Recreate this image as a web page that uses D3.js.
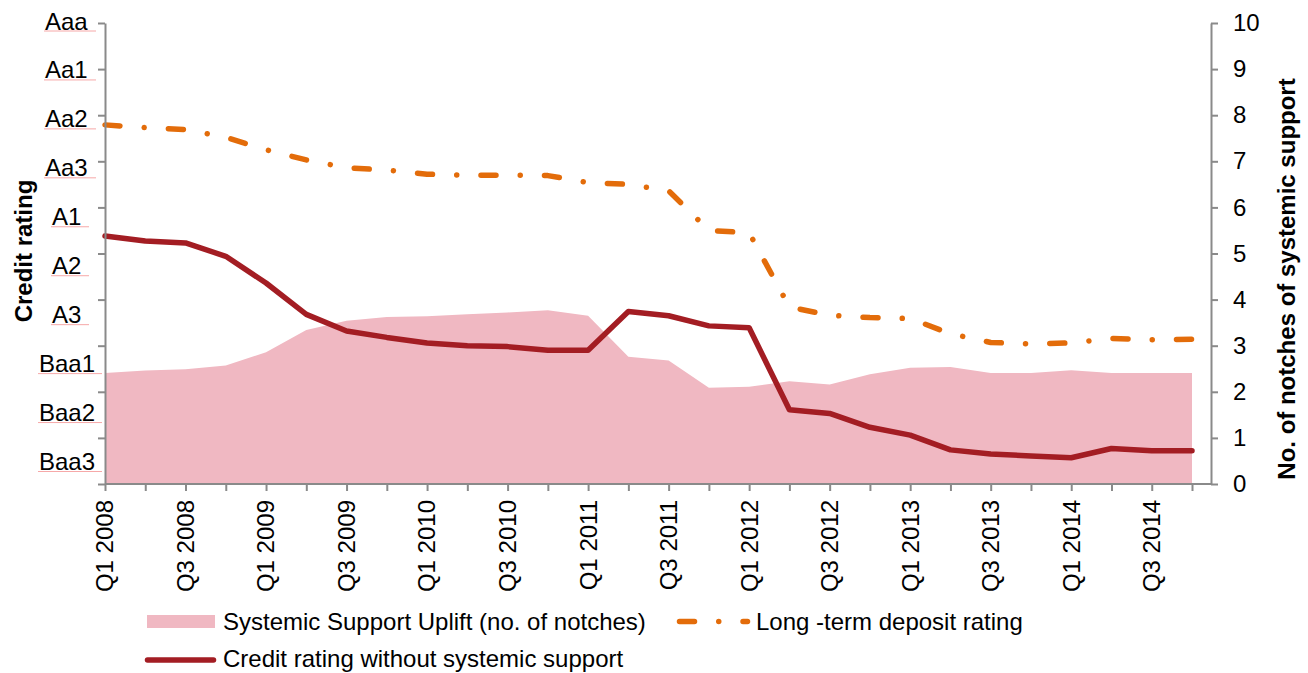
<!DOCTYPE html>
<html>
<head>
<meta charset="utf-8">
<script src="https://cdn.jsdelivr.net/npm/d3@7"></script>
<style>
html, body { margin: 0; padding: 0; background: #ffffff; }
svg { display: block; font-family: "Liberation Sans", Arial, sans-serif; }
</style>
</head>
<body>
<svg id="chart" width="1308" height="673"></svg>
<script>
// ---------------- DATA ----------------
const quarters = [
  "Q1 2008","Q2 2008","Q3 2008","Q4 2008",
  "Q1 2009","Q2 2009","Q3 2009","Q4 2009",
  "Q1 2010","Q2 2010","Q3 2010","Q4 2010",
  "Q1 2011","Q2 2011","Q3 2011","Q4 2011",
  "Q1 2012","Q2 2012","Q3 2012","Q4 2012",
  "Q1 2013","Q2 2013","Q3 2013","Q4 2013",
  "Q1 2014","Q2 2014","Q3 2014","Q4 2014"
];
const shownQuarterLabels = [
  "Q1 2008","Q3 2008","Q1 2009","Q3 2009","Q1 2010","Q3 2010","Q1 2011",
  "Q3 2011","Q1 2012","Q3 2012","Q1 2013","Q3 2013","Q1 2014","Q3 2014"
];
// Systemic support uplift (no. of notches) - right axis
const supportUplift = [
  2.41, 2.46, 2.49, 2.57, 2.86, 3.34, 3.54, 3.62, 3.64, 3.68, 3.72, 3.77, 3.65, 2.76,
  2.68, 2.09, 2.11, 2.23, 2.16, 2.38, 2.52, 2.54, 2.41, 2.41, 2.47, 2.41, 2.41, 2.41
];
// Long-term deposit rating (plotted on the same 0-10 notch grid)
const depositRating = [
  7.79, 7.73, 7.69, 7.52, 7.25, 7.03, 6.86, 6.81, 6.72, 6.70, 6.70, 6.69, 6.54, 6.50,
  6.36, 5.50, 5.45, 3.84, 3.66, 3.61, 3.59, 3.26, 3.07, 3.04, 3.06, 3.16, 3.13, 3.14
];
// Credit rating without systemic support
const ratingWithoutSupport = [
  5.38, 5.27, 5.23, 4.94, 4.36, 3.68, 3.32, 3.18, 3.06, 3.00, 2.98, 2.90, 2.90, 3.74,
  3.65, 3.43, 3.39, 1.61, 1.53, 1.23, 1.06, 0.74, 0.65, 0.61, 0.57, 0.77, 0.72, 0.72
];
const ratingLabels = ["Aaa","Aa1","Aa2","Aa3","A1","A2","A3","Baa1","Baa2","Baa3"];
const notchTicks = [0,1,2,3,4,5,6,7,8,9,10];

const seriesNames = {
  uplift: "Systemic Support Uplift (no. of notches)",
  deposit: "Long -term deposit rating",
  standalone: "Credit rating without systemic support"
};

// ---------------- STYLE / LAYOUT ----------------
const COL_AXIS = "#8a8a8a";
const COL_PINK = "#f0b8c2";
const COL_RED = "#a31d23";
const COL_ORANGE = "#e36c0a";
const FONT = 24;
const DASH = "15,24.25,0.01,24.25";

const svg = d3.select("#chart");
const x = d3.scalePoint().domain(quarters).range([105, 1192]);
const y = d3.scaleLinear().domain([0, 10]).range([484, 23]);
const xAxisLeft = 105, xAxisRight = 1211;

// ---------------- AREA ----------------
const rows = quarters.map((q, i) => ({
  q, up: supportUplift[i], dep: depositRating[i], sa: ratingWithoutSupport[i]
}));

svg.append("path")
  .datum(rows)
  .attr("fill", COL_PINK)
  .attr("d", d3.area().x(d => x(d.q)).y0(y(0)).y1(d => y(d.up)));

// ---------------- LINES ----------------
svg.append("path")
  .datum(rows)
  .attr("fill", "none")
  .attr("stroke", COL_RED)
  .attr("stroke-width", 5.5)
  .attr("stroke-linejoin", "round")
  .attr("stroke-linecap", "round")
  .attr("d", d3.line().x(d => x(d.q)).y(d => y(d.sa)));

svg.append("path")
  .datum(rows)
  .attr("fill", "none")
  .attr("stroke", COL_ORANGE)
  .attr("stroke-width", 5.5)
  .attr("stroke-linejoin", "round")
  .attr("stroke-linecap", "round")
  .attr("stroke-dasharray", DASH)
  .attr("d", d3.line().x(d => x(d.q)).y(d => y(d.dep)));

// ---------------- AXES ----------------
// bottom axis ticks
const gx = svg.append("g")
  .attr("transform", `translate(0,${y(0)})`)
  .call(d3.axisBottom(x).tickSize(7).tickSizeOuter(0).tickFormat(""));
gx.select(".domain").remove();
gx.selectAll(".tick line").attr("stroke", COL_AXIS).attr("stroke-width", 2);
svg.append("line")
  .attr("x1", xAxisLeft).attr("x2", xAxisRight)
  .attr("y1", y(0)).attr("y2", y(0))
  .attr("stroke", COL_AXIS).attr("stroke-width", 2);

svg.append("g").selectAll("text")
  .data(shownQuarterLabels)
  .join("text")
  .attr("transform", d => `translate(${x(d)},500) rotate(-90)`)
  .attr("dy", "0.35em")
  .attr("text-anchor", "end")
  .attr("font-size", FONT)
  .attr("fill", "#000")
  .text(d => d);

// left axis (ticks only)
const gl = svg.append("g")
  .attr("transform", `translate(${xAxisLeft},0)`)
  .call(d3.axisLeft(y).tickValues(notchTicks).tickSize(7).tickSizeOuter(0).tickFormat(""));
gl.select(".domain").attr("stroke", COL_AXIS).attr("stroke-width", 2);
gl.selectAll(".tick line").attr("stroke", COL_AXIS).attr("stroke-width", 2);

// right axis
const gr = svg.append("g")
  .attr("transform", `translate(${xAxisRight},0)`)
  .call(d3.axisRight(y).tickValues(notchTicks).tickSize(7).tickSizeOuter(0).tickPadding(15).tickFormat(d3.format("d")));
gr.select(".domain").attr("stroke", COL_AXIS).attr("stroke-width", 2);
gr.selectAll(".tick line").attr("stroke", COL_AXIS).attr("stroke-width", 2);
gr.selectAll(".tick text")
  .attr("font-size", FONT)
  .attr("font-family", "Liberation Sans, Arial, sans-serif")
  .attr("fill", "#000");

// rating labels (text boxes along the left axis)
const ratingY = d3.scalePoint().domain(ratingLabels).range([29.5, 470]);
const ratingX = l => l.startsWith("Baa") ? 39 : (l.startsWith("Aa") ? 45 : 52);
const ratingXEnd = l => l.startsWith("Baa") ? 102 : (l.startsWith("Aa") ? 96 : 89);
const rl = svg.append("g");
rl.selectAll("line")
  .data(ratingLabels)
  .join("line")
  .attr("x1", d => ratingX(d) - 1).attr("x2", d => ratingXEnd(d))
  .attr("y1", d => ratingY(d) + 1.5).attr("y2", d => ratingY(d) + 1.5)
  .attr("stroke", "#f6a8a8").attr("stroke-width", 1);
rl.selectAll("text")
  .data(ratingLabels)
  .join("text")
  .attr("x", d => ratingX(d))
  .attr("y", d => ratingY(d))
  .attr("font-size", FONT)
  .attr("fill", "#000")
  .text(d => d);

// axis titles
svg.append("text")
  .attr("transform", `translate(32,251) rotate(-90)`)
  .attr("text-anchor", "middle")
  .attr("font-size", FONT)
  .attr("font-weight", "bold")
  .text("Credit rating");

svg.append("text")
  .attr("transform", `translate(1295,279) rotate(-90)`)
  .attr("text-anchor", "middle")
  .attr("font-size", FONT)
  .attr("font-weight", "bold")
  .text("No. of notches of systemic support");

// ---------------- LEGEND ----------------
const lg = svg.append("g");
lg.append("rect")
  .attr("x", 147).attr("y", 615).attr("width", 68).attr("height", 13)
  .attr("fill", COL_PINK);
lg.append("text")
  .attr("x", 223).attr("y", 621.5).attr("dy", "0.35em")
  .attr("font-size", FONT).text(seriesNames.uplift);

lg.append("line")
  .attr("x1", 679.5).attr("x2", 747.5).attr("y1", 621.5).attr("y2", 621.5)
  .attr("stroke", COL_ORANGE).attr("stroke-width", 5.5)
  .attr("stroke-linecap", "round")
  .attr("stroke-dasharray", DASH);
lg.append("text")
  .attr("x", 756).attr("y", 621.5).attr("dy", "0.35em")
  .attr("font-size", FONT).text(seriesNames.deposit);

lg.append("line")
  .attr("x1", 147.5).attr("x2", 213.5).attr("y1", 660).attr("y2", 660)
  .attr("stroke", COL_RED).attr("stroke-width", 5.5)
  .attr("stroke-linecap", "round");
lg.append("text")
  .attr("x", 223).attr("y", 659).attr("dy", "0.35em")
  .attr("font-size", FONT).text(seriesNames.standalone);
</script>
</body>
</html>
